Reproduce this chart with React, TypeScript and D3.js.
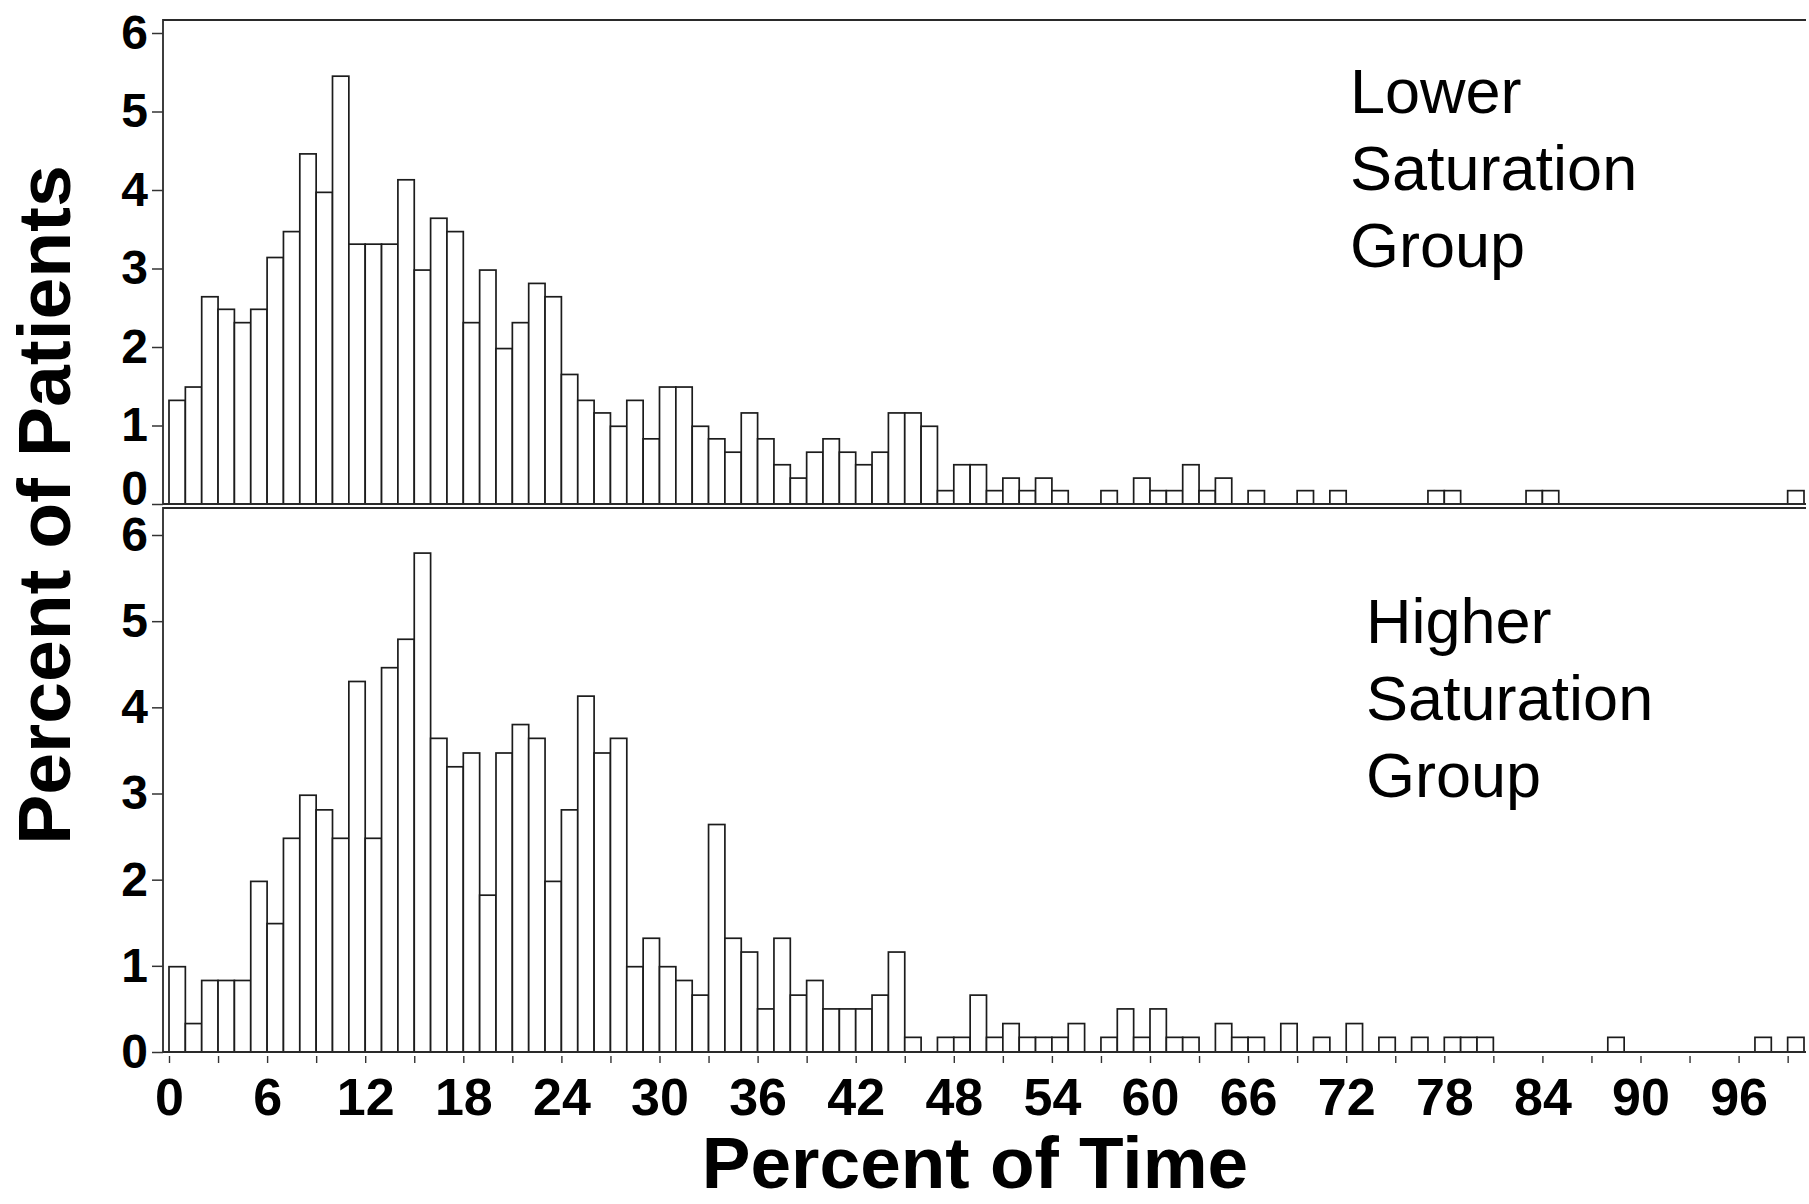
import React, { useEffect, useRef } from "react";
import * as d3 from "d3";

// percent of patients in each 1%-wide bin of "percent of time" (bins 0..99)
const lowerPct = [
  1.32, 1.49, 2.64, 2.48, 2.31, 2.48, 3.14, 3.47, 4.46, 3.97,
  5.45, 3.31, 3.31, 3.31, 4.13, 2.98, 3.64, 3.47, 2.31, 2.98,
  1.98, 2.31, 2.81, 2.64, 1.65, 1.32, 1.16, 0.99, 1.32, 0.83,
  1.49, 1.49, 0.99, 0.83, 0.66, 1.16, 0.83, 0.5, 0.33, 0.66,
  0.83, 0.66, 0.5, 0.66, 1.16, 1.16, 0.99, 0.17, 0.5, 0.5,
  0.17, 0.33, 0.17, 0.33, 0.17, 0, 0, 0.17, 0, 0.33,
  0.17, 0.17, 0.5, 0.17, 0.33, 0, 0.17, 0, 0, 0.17,
  0, 0.17, 0, 0, 0, 0, 0, 0.17, 0.17, 0,
  0, 0, 0, 0.17, 0.17, 0, 0, 0, 0, 0,
  0, 0, 0, 0, 0, 0, 0, 0, 0, 0.17,
];

const higherPct = [
  0.99, 0.33, 0.83, 0.83, 0.83, 1.98, 1.49, 2.48, 2.98, 2.81,
  2.48, 4.3, 2.48, 4.46, 4.79, 5.79, 3.64, 3.31, 3.47, 1.82,
  3.47, 3.8, 3.64, 1.98, 2.81, 4.13, 3.47, 3.64, 0.99, 1.32,
  0.99, 0.83, 0.66, 2.64, 1.32, 1.16, 0.5, 1.32, 0.66, 0.83,
  0.5, 0.5, 0.5, 0.66, 1.16, 0.17, 0, 0.17, 0.17, 0.66,
  0.17, 0.33, 0.17, 0.17, 0.17, 0.33, 0, 0.17, 0.5, 0.17,
  0.5, 0.17, 0.17, 0, 0.33, 0.17, 0.17, 0, 0.33, 0,
  0.17, 0, 0.33, 0, 0.17, 0, 0.17, 0, 0.17, 0.17,
  0.17, 0, 0, 0, 0, 0, 0, 0, 0.17, 0,
  0, 0, 0, 0, 0, 0, 0, 0.17, 0, 0.17,
];

const yTicks = [0, 1, 2, 3, 4, 5, 6];
const xLabelTicks = [0, 6, 12, 18, 24, 30, 36, 42, 48, 54, 60, 66, 72, 78, 84, 90, 96];
const groupLabels = [
  ["Lower", "Saturation", "Group"],
  ["Higher", "Saturation", "Group"],
];
const xTitle = "Percent of Time";
const yTitle = "Percent of Patients";

const App: React.FC = () => {
  const svgRef = useRef<SVGSVGElement | null>(null);

  useEffect(() => {
    if (!svgRef.current) return;
    const svg = d3.select(svgRef.current);
    svg.selectAll("*").remove();

    const width = 1809;
    const height = 1204;
    const font = "'Liberation Sans', Arial, Helvetica, sans-serif";
    const frameLeft = 163;
    const frameRight = 1806;

    svg.attr("width", width).attr("height", height);
    svg.append("rect").attr("width", width).attr("height", height).attr("fill", "#fff");

    const x = d3.scaleLinear().domain([0, 100]).range([169, 1804]);

    const panels = [
      { data: lowerPct, top: 20, y: d3.scaleLinear().domain([0, 6]).range([504, 33]), lx: 1350, ly: 113 },
      { data: higherPct, top: 508, y: d3.scaleLinear().domain([0, 6]).range([1052, 535]), lx: 1366, ly: 643 },
    ];

    panels.forEach((p, pi) => {
      const g = svg.append("g");
      const bins = p.data.map((v, i) => ({ i, v })).filter((d) => d.v > 0);

      g.selectAll("rect.bar")
        .data(bins)
        .enter()
        .append("rect")
        .attr("class", "bar")
        .attr("x", (d) => x(d.i))
        .attr("y", (d) => p.y(d.v))
        .attr("width", x(1) - x(0))
        .attr("height", (d) => p.y(0) - p.y(d.v))
        .attr("fill", "#fff")
        .attr("stroke", "#1c1c1c")
        .attr("stroke-width", 1.7);

      // frame: top, left and bottom sides
      const y0 = p.y(0);
      g.append("path")
        .attr("d", `M${frameRight},${p.top}H${frameLeft}V${y0}H${frameRight}`)
        .attr("fill", "none")
        .attr("stroke", "#2a2a2a")
        .attr("stroke-width", 1.8);

      const axis = g
        .append("g")
        .attr("transform", `translate(${frameLeft},0)`)
        .call(
          d3
            .axisLeft(p.y)
            .tickValues(yTicks)
            .tickFormat(d3.format("d"))
            .tickSize(11)
            .tickPadding(4)
            .tickSizeOuter(0)
        );
      axis.select(".domain").remove();
      axis.selectAll("line").attr("stroke", "#333").attr("stroke-width", 1.5);
      axis
        .selectAll("text")
        .attr("font-family", font)
        .attr("font-size", 48)
        .attr("font-weight", "bold")
        .attr("fill", "#000");
      // the upper panel's 0 sits a little higher so it clears the lower panel's 6
      if (pi === 0) {
        axis
          .selectAll<SVGTextElement, number>("text")
          .filter((d) => d === 0)
          .attr("y", -15);
      }

      const label = g
        .append("text")
        .attr("font-family", font)
        .attr("font-size", 63)
        .attr("fill", "#000");
      groupLabels[pi].forEach((line, li) => {
        label
          .append("tspan")
          .attr("x", p.lx)
          .attr("y", p.ly + li * 77)
          .text(line);
      });
    });

    // minor ticks every 3 units under the lower panel
    const minor = svg
      .append("g")
      .attr("transform", "translate(0,1056)")
      .call(d3.axisBottom(x).tickValues(d3.range(0, 100, 3)).tickSize(7).tickFormat(() => ""));
    minor.select(".domain").remove();
    minor.selectAll("line").attr("stroke", "#333").attr("stroke-width", 1.4);

    const xLabels = svg
      .append("g")
      .attr("transform", "translate(0,1115)")
      .call(d3.axisBottom(x).tickValues(xLabelTicks).tickFormat(d3.format("d")).tickSize(0).tickPadding(0));
    xLabels.select(".domain").remove();
    xLabels
      .selectAll("text")
      .attr("y", 0)
      .attr("dy", 0)
      .attr("font-family", font)
      .attr("font-size", 52)
      .attr("font-weight", "bold")
      .attr("fill", "#000");

    svg
      .append("text")
      .attr("x", 975)
      .attr("y", 1188)
      .attr("text-anchor", "middle")
      .attr("font-family", font)
      .attr("font-size", 73)
      .attr("font-weight", "bold")
      .attr("fill", "#000")
      .text(xTitle);

    svg
      .append("text")
      .attr("transform", "translate(70,505) rotate(-90)")
      .attr("text-anchor", "middle")
      .attr("font-family", font)
      .attr("font-size", 75)
      .attr("font-weight", "bold")
      .attr("fill", "#000")
      .text(yTitle);
  }, []);

  return <svg ref={svgRef} style={{ position: "absolute", left: 0, top: 0, display: "block" }}></svg>;
};

export default App;
